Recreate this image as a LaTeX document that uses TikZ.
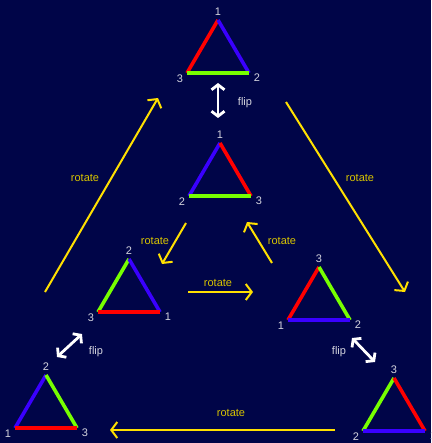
\documentclass[tikz,border=0pt]{standalone}
\usepackage{fontspec}
\setmainfont{Liberation Sans}
\usetikzlibrary{arrows.meta}
\definecolor{Bg}{HTML}{000548}
\definecolor{Sred}{HTML}{FF0000}
\definecolor{Sblue}{HTML}{3A00FF}
\definecolor{Sgreen}{HTML}{77FF00}
\definecolor{Rot}{HTML}{FFE000}
\definecolor{Rottext}{HTML}{D8C400}
\definecolor{Numtext}{HTML}{D4D4DE}

% one triangle: name, apex x, apex y, left/right/base side colours, apex/left/right labels
\newcommand{\tri}[9]{%
  \path (#2,#3) coordinate (#1a) ++(-31,53) coordinate (#1l) ++(62,0) coordinate (#1r);
  \draw[side, #4] (#1a) -- (#1l);
  \draw[side, #5] (#1a) -- (#1r);
  \draw[side, #6] (#1l) -- (#1r);
  \path (#1a) ++(0,-8) node[num] (#1na) {#7};
  \path (#1l) ++(-7,6) node[num] (#1nl) {#8};
  \path (#1r) ++(8,5) node[num] (#1nr) {#9};
}

\begin{document}
\begin{tikzpicture}[
  x=1pt, y=-1pt,
  side/.style   ={line width=3.6pt},
  num/.style    ={inner sep=0pt, font=\fontsize{11}{13}\selectfont, text=Numtext},
  rotarrow/.style={draw=Rot, line width=2pt, -{Straight Barb[length=6pt, width=16pt, line width=2pt]}},
  fliparrow/.style={draw=white, line width=2.8pt, {Straight Barb[length=5pt, width=13pt, line width=2.8pt]}-{Straight Barb[length=5pt, width=13pt, line width=2.8pt]}},
  rotlab/.style ={inner sep=0pt, font=\fontsize{11}{13}\selectfont, text=Rottext},
  fliplab/.style={inner sep=0pt, font=\fontsize{11}{13}\selectfont, text=Numtext},
]
\fill[Bg] (0,0) rectangle (431,443);
\useasboundingbox (0,0) rectangle (431,443);

% ── the six triangles ─────────────────────────────────
\tri{top}{218}{20}{Sred}{Sblue}{Sgreen}{1}{3}{2}
\tri{mid}{220}{143}{Sblue}{Sred}{Sgreen}{1}{2}{3}
\tri{cl}{129}{259}{Sgreen}{Sblue}{Sred}{2}{3}{1}
\tri{cr}{319}{267}{Sred}{Sgreen}{Sblue}{3}{1}{2}
\tri{bl}{46}{375}{Sblue}{Sgreen}{Sred}{2}{1}{3}
\tri{br}{394}{378}{Sgreen}{Sred}{Sblue}{3}{2}{1}

% ── arrow ends ────────────────────────────────────────
\coordinate (r1s) at (45,292);   \coordinate (r1e) at (158,98);
\coordinate (r2s) at (286,102);  \coordinate (r2e) at (405,292);
\coordinate (r3s) at (186,223);  \coordinate (r3e) at (162,264);
\coordinate (r4s) at (272,263);  \coordinate (r4e) at (247,222);
\coordinate (r5s) at (188,292);  \coordinate (r5e) at (253,292);
\coordinate (r6s) at (335,430);  \coordinate (r6e) at (110,430);
\coordinate (f1s) at (218,83);   \coordinate (f1e) at (218,118);
\coordinate (f2s) at (57,357);   \coordinate (f2e) at (82,334);
\coordinate (f3s) at (352,338);  \coordinate (f3e) at (375,362);

% ── rotations ─────────────────────────────────────────
\draw[rotarrow] (r1s) -- (r1e);
\draw[rotarrow] (r2s) -- (r2e);
\draw[rotarrow] (r3s) -- (r3e);
\draw[rotarrow] (r4s) -- (r4e);
\draw[rotarrow] (r5s) -- (r5e);
\draw[rotarrow] (r6s) -- (r6e);
\node[rotlab] (l1) at (85,178)  {rotate};
\node[rotlab] (l2) at (360,178) {rotate};
\node[rotlab] (l3) at (155,241) {rotate};
\node[rotlab] (l4) at (282,241) {rotate};
\node[rotlab] (l5) at (218,283) {rotate};
\node[rotlab] (l6) at (231,413) {rotate};

% ── flips ─────────────────────────────────────────────
\draw[fliparrow] (f1s) -- (f1e);
\draw[fliparrow] (f2s) -- (f2e);
\draw[fliparrow] (f3s) -- (f3e);
\node[fliplab] (k1) at (245,103) {flip};
\node[fliplab] (k2) at (96,352)  {flip};
\node[fliplab] (k3) at (339,352) {flip};

\end{tikzpicture}
\end{document}
